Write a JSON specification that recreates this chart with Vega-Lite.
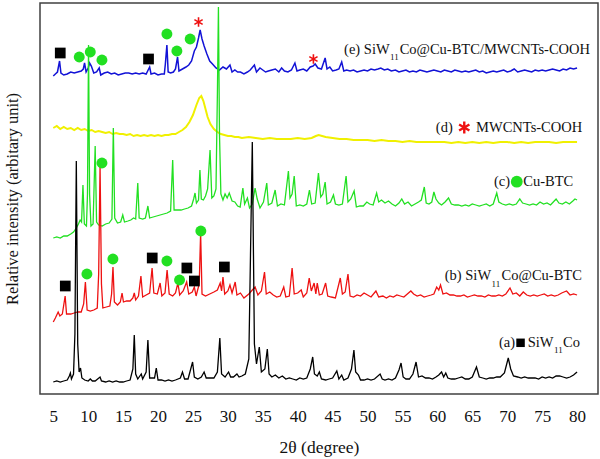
{
"$schema": "https://vega.github.io/schema/vega-lite/v6.json",
"width": 558, "height": 391,
"autosize": "none",
"padding": {"left": 40, "top": 3, "right": 2, "bottom": 65},
"background": "white",
"config": {"view": {"stroke": "#404040", "strokeWidth": 1.5}, "axisX": {"labelOverlap": false, "labelSeparation": 0, "labelBound": false}},
"datasets": {
"tr": [
{"s":"a","x":5.0,"y":12},{"s":"a","x":5.5,"y":13},{"s":"a","x":6.0,"y":12},{"s":"a","x":6.5,"y":13},{"s":"a","x":7.0,"y":14},{"s":"a","x":7.3,"y":18},{"s":"a","x":7.45,"y":21},{"s":"a","x":7.6,"y":15},{"s":"a","x":7.9,"y":20},{"s":"a","x":8.1,"y":60},{"s":"a","x":8.3,"y":233},{"s":"a","x":8.5,"y":50},{"s":"a","x":8.7,"y":22},{"s":"a","x":8.9,"y":26},{"s":"a","x":9.1,"y":16},{"s":"a","x":9.5,"y":14},{"s":"a","x":10.0,"y":13},{"s":"a","x":10.3,"y":15},{"s":"a","x":10.6,"y":13},{"s":"a","x":11.0,"y":13},{"s":"a","x":11.7,"y":17},{"s":"a","x":11.9,"y":13},{"s":"a","x":12.5,"y":12},{"s":"a","x":13.0,"y":13},{"s":"a","x":13.5,"y":12},{"s":"a","x":14.0,"y":13},{"s":"a","x":14.5,"y":12},{"s":"a","x":15.0,"y":12},{"s":"a","x":15.5,"y":13},{"s":"a","x":16.0,"y":14},{"s":"a","x":16.4,"y":25},{"s":"a","x":16.6,"y":59},{"s":"a","x":16.8,"y":20},{"s":"a","x":17.1,"y":15},{"s":"a","x":17.6,"y":20},{"s":"a","x":17.8,"y":15},{"s":"a","x":18.3,"y":22},{"s":"a","x":18.55,"y":54},{"s":"a","x":18.8,"y":16},{"s":"a","x":19.5,"y":16},{"s":"a","x":19.75,"y":26},{"s":"a","x":20.0,"y":14},{"s":"a","x":20.5,"y":14},{"s":"a","x":21.0,"y":13},{"s":"a","x":21.5,"y":14},{"s":"a","x":22.0,"y":13},{"s":"a","x":22.5,"y":14},{"s":"a","x":23.2,"y":16},{"s":"a","x":23.5,"y":22},{"s":"a","x":23.8,"y":15},{"s":"a","x":24.3,"y":15},{"s":"a","x":24.95,"y":32},{"s":"a","x":25.2,"y":17},{"s":"a","x":25.7,"y":15},{"s":"a","x":26.2,"y":17},{"s":"a","x":26.6,"y":22},{"s":"a","x":26.9,"y":16},{"s":"a","x":27.5,"y":16},{"s":"a","x":28.0,"y":16},{"s":"a","x":28.5,"y":22},{"s":"a","x":28.85,"y":56},{"s":"a","x":29.1,"y":20},{"s":"a","x":29.6,"y":17},{"s":"a","x":30.1,"y":22},{"s":"a","x":30.4,"y":17},{"s":"a","x":30.8,"y":17},{"s":"a","x":31.3,"y":20},{"s":"a","x":31.6,"y":17},{"s":"a","x":32.0,"y":18},{"s":"a","x":32.5,"y":20},{"s":"a","x":33.0,"y":35},{"s":"a","x":33.5,"y":252},{"s":"a","x":33.8,"y":50},{"s":"a","x":34.1,"y":30},{"s":"a","x":34.5,"y":47},{"s":"a","x":34.8,"y":22},{"s":"a","x":35.3,"y":25},{"s":"a","x":35.65,"y":45},{"s":"a","x":35.9,"y":20},{"s":"a","x":36.3,"y":17},{"s":"a","x":36.8,"y":19},{"s":"a","x":37.3,"y":16},{"s":"a","x":37.8,"y":18},{"s":"a","x":38.3,"y":15},{"s":"a","x":38.8,"y":16},{"s":"a","x":39.3,"y":15},{"s":"a","x":39.8,"y":14},{"s":"a","x":40.3,"y":16},{"s":"a","x":40.8,"y":15},{"s":"a","x":41.3,"y":16},{"s":"a","x":41.8,"y":25},{"s":"a","x":42.15,"y":37},{"s":"a","x":42.4,"y":20},{"s":"a","x":42.8,"y":18},{"s":"a","x":43.1,"y":22},{"s":"a","x":43.4,"y":15},{"s":"a","x":44.0,"y":14},{"s":"a","x":44.5,"y":15},{"s":"a","x":45.0,"y":16},{"s":"a","x":45.6,"y":23},{"s":"a","x":45.9,"y":15},{"s":"a","x":46.3,"y":19},{"s":"a","x":46.6,"y":14},{"s":"a","x":47.2,"y":16},{"s":"a","x":47.7,"y":25},{"s":"a","x":48.05,"y":44},{"s":"a","x":48.3,"y":22},{"s":"a","x":48.7,"y":19},{"s":"a","x":49.0,"y":14},{"s":"a","x":49.5,"y":14},{"s":"a","x":50.0,"y":15},{"s":"a","x":50.5,"y":14},{"s":"a","x":51.0,"y":15},{"s":"a","x":51.8,"y":20},{"s":"a","x":52.1,"y":15},{"s":"a","x":52.5,"y":14},{"s":"a","x":53.0,"y":15},{"s":"a","x":53.5,"y":14},{"s":"a","x":54.0,"y":16},{"s":"a","x":54.5,"y":24},{"s":"a","x":54.8,"y":31},{"s":"a","x":55.1,"y":17},{"s":"a","x":55.5,"y":15},{"s":"a","x":56.0,"y":15},{"s":"a","x":56.5,"y":20},{"s":"a","x":56.95,"y":32},{"s":"a","x":57.3,"y":17},{"s":"a","x":57.8,"y":18},{"s":"a","x":58.3,"y":16},{"s":"a","x":58.8,"y":16},{"s":"a","x":59.3,"y":15},{"s":"a","x":59.8,"y":17},{"s":"a","x":60.2,"y":19},{"s":"a","x":60.6,"y":22},{"s":"a","x":60.9,"y":17},{"s":"a","x":61.2,"y":21},{"s":"a","x":61.5,"y":16},{"s":"a","x":62.0,"y":15},{"s":"a","x":62.5,"y":15},{"s":"a","x":63.0,"y":16},{"s":"a","x":63.5,"y":17},{"s":"a","x":64.0,"y":15},{"s":"a","x":64.5,"y":15},{"s":"a","x":65.0,"y":17},{"s":"a","x":65.6,"y":27},{"s":"a","x":66.0,"y":17},{"s":"a","x":66.5,"y":16},{"s":"a","x":67.0,"y":15},{"s":"a","x":67.5,"y":16},{"s":"a","x":68.0,"y":16},{"s":"a","x":68.5,"y":17},{"s":"a","x":69.0,"y":17},{"s":"a","x":69.6,"y":21},{"s":"a","x":70.15,"y":36},{"s":"a","x":70.5,"y":25},{"s":"a","x":70.9,"y":18},{"s":"a","x":71.5,"y":17},{"s":"a","x":72.0,"y":16},{"s":"a","x":72.5,"y":17},{"s":"a","x":73.0,"y":16},{"s":"a","x":73.5,"y":16},{"s":"a","x":74.0,"y":16},{"s":"a","x":74.5,"y":15},{"s":"a","x":75.0,"y":17},{"s":"a","x":75.5,"y":16},{"s":"a","x":76.0,"y":17},{"s":"a","x":76.5,"y":16},{"s":"a","x":77.0,"y":18},{"s":"a","x":77.5,"y":18},{"s":"a","x":78.0,"y":17},{"s":"a","x":78.5,"y":16},{"s":"a","x":79.0,"y":17},{"s":"a","x":79.5,"y":19},{"s":"a","x":80.0,"y":22},
{"s":"b","x":5.0,"y":72},{"s":"b","x":5.3,"y":76},{"s":"b","x":5.7,"y":82},{"s":"b","x":5.95,"y":78},{"s":"b","x":6.3,"y":80},{"s":"b","x":6.7,"y":98},{"s":"b","x":6.9,"y":80},{"s":"b","x":7.5,"y":80},{"s":"b","x":8.0,"y":81},{"s":"b","x":8.5,"y":82},{"s":"b","x":9.0,"y":82},{"s":"b","x":9.35,"y":90},{"s":"b","x":9.6,"y":112},{"s":"b","x":9.85,"y":84},{"s":"b","x":10.3,"y":83},{"s":"b","x":10.8,"y":84},{"s":"b","x":11.3,"y":86},{"s":"b","x":11.5,"y":120},{"s":"b","x":11.7,"y":228},{"s":"b","x":11.9,"y":110},{"s":"b","x":12.1,"y":86},{"s":"b","x":12.6,"y":87},{"s":"b","x":13.1,"y":88},{"s":"b","x":13.35,"y":100},{"s":"b","x":13.55,"y":127},{"s":"b","x":13.75,"y":92},{"s":"b","x":14.2,"y":89},{"s":"b","x":14.6,"y":92},{"s":"b","x":14.85,"y":101},{"s":"b","x":15.05,"y":92},{"s":"b","x":15.5,"y":93},{"s":"b","x":16.0,"y":93},{"s":"b","x":16.4,"y":96},{"s":"b","x":16.6,"y":101},{"s":"b","x":16.8,"y":94},{"s":"b","x":17.2,"y":98},{"s":"b","x":17.55,"y":118},{"s":"b","x":17.8,"y":97},{"s":"b","x":18.3,"y":99},{"s":"b","x":18.8,"y":101},{"s":"b","x":19.15,"y":126},{"s":"b","x":19.4,"y":101},{"s":"b","x":19.9,"y":100},{"s":"b","x":20.3,"y":111},{"s":"b","x":20.55,"y":98},{"s":"b","x":21.0,"y":101},{"s":"b","x":21.3,"y":124},{"s":"b","x":21.6,"y":100},{"s":"b","x":22.1,"y":98},{"s":"b","x":22.5,"y":101},{"s":"b","x":22.85,"y":111},{"s":"b","x":23.1,"y":99},{"s":"b","x":23.6,"y":103},{"s":"b","x":24.1,"y":112},{"s":"b","x":24.4,"y":100},{"s":"b","x":24.9,"y":102},{"s":"b","x":25.2,"y":107},{"s":"b","x":25.45,"y":98},{"s":"b","x":25.9,"y":110},{"s":"b","x":26.1,"y":161},{"s":"b","x":26.3,"y":100},{"s":"b","x":26.8,"y":98},{"s":"b","x":27.4,"y":100},{"s":"b","x":28.0,"y":102},{"s":"b","x":28.5,"y":104},{"s":"b","x":28.9,"y":111},{"s":"b","x":29.1,"y":103},{"s":"b","x":29.3,"y":117},{"s":"b","x":29.55,"y":100},{"s":"b","x":30.0,"y":103},{"s":"b","x":30.3,"y":109},{"s":"b","x":30.6,"y":101},{"s":"b","x":31.05,"y":112},{"s":"b","x":31.3,"y":99},{"s":"b","x":31.8,"y":101},{"s":"b","x":32.3,"y":96},{"s":"b","x":33.0,"y":100},{"s":"b","x":33.5,"y":104},{"s":"b","x":33.9,"y":107},{"s":"b","x":34.3,"y":99},{"s":"b","x":34.8,"y":103},{"s":"b","x":35.25,"y":122},{"s":"b","x":35.5,"y":100},{"s":"b","x":36.0,"y":102},{"s":"b","x":36.5,"y":99},{"s":"b","x":37.0,"y":97},{"s":"b","x":37.5,"y":98},{"s":"b","x":38.0,"y":107},{"s":"b","x":38.3,"y":97},{"s":"b","x":38.8,"y":98},{"s":"b","x":39.2,"y":126},{"s":"b","x":39.5,"y":100},{"s":"b","x":40.0,"y":101},{"s":"b","x":40.5,"y":104},{"s":"b","x":40.8,"y":97},{"s":"b","x":41.3,"y":101},{"s":"b","x":41.65,"y":116},{"s":"b","x":41.95,"y":103},{"s":"b","x":42.35,"y":111},{"s":"b","x":42.6,"y":100},{"s":"b","x":42.8,"y":111},{"s":"b","x":43.1,"y":99},{"s":"b","x":43.5,"y":100},{"s":"b","x":44.0,"y":111},{"s":"b","x":44.3,"y":98},{"s":"b","x":44.8,"y":97},{"s":"b","x":45.4,"y":96},{"s":"b","x":46.1,"y":116},{"s":"b","x":46.4,"y":100},{"s":"b","x":46.8,"y":102},{"s":"b","x":47.2,"y":120},{"s":"b","x":47.5,"y":98},{"s":"b","x":48.0,"y":97},{"s":"b","x":48.5,"y":99},{"s":"b","x":49.0,"y":98},{"s":"b","x":49.5,"y":101},{"s":"b","x":50.0,"y":99},{"s":"b","x":50.5,"y":97},{"s":"b","x":51.2,"y":103},{"s":"b","x":51.6,"y":97},{"s":"b","x":52.2,"y":98},{"s":"b","x":52.7,"y":96},{"s":"b","x":53.2,"y":98},{"s":"b","x":53.7,"y":97},{"s":"b","x":54.2,"y":99},{"s":"b","x":54.7,"y":98},{"s":"b","x":55.2,"y":97},{"s":"b","x":55.7,"y":100},{"s":"b","x":56.2,"y":103},{"s":"b","x":56.6,"y":100},{"s":"b","x":57.1,"y":98},{"s":"b","x":57.6,"y":99},{"s":"b","x":58.1,"y":97},{"s":"b","x":58.6,"y":98},{"s":"b","x":59.1,"y":99},{"s":"b","x":59.5,"y":100},{"s":"b","x":59.9,"y":107},{"s":"b","x":60.2,"y":104},{"s":"b","x":60.45,"y":109},{"s":"b","x":60.8,"y":100},{"s":"b","x":61.3,"y":101},{"s":"b","x":61.8,"y":99},{"s":"b","x":62.3,"y":99},{"s":"b","x":62.8,"y":98},{"s":"b","x":63.3,"y":98},{"s":"b","x":63.8,"y":99},{"s":"b","x":64.3,"y":97},{"s":"b","x":64.8,"y":98},{"s":"b","x":65.3,"y":99},{"s":"b","x":65.8,"y":98},{"s":"b","x":66.3,"y":98},{"s":"b","x":66.8,"y":97},{"s":"b","x":67.3,"y":99},{"s":"b","x":67.8,"y":98},{"s":"b","x":68.3,"y":98},{"s":"b","x":68.8,"y":99},{"s":"b","x":69.3,"y":98},{"s":"b","x":69.8,"y":100},{"s":"b","x":70.4,"y":106},{"s":"b","x":70.8,"y":100},{"s":"b","x":71.3,"y":101},{"s":"b","x":71.8,"y":98},{"s":"b","x":72.3,"y":102},{"s":"b","x":72.8,"y":99},{"s":"b","x":73.3,"y":98},{"s":"b","x":73.8,"y":99},{"s":"b","x":74.3,"y":98},{"s":"b","x":74.8,"y":99},{"s":"b","x":75.3,"y":100},{"s":"b","x":75.8,"y":98},{"s":"b","x":76.3,"y":99},{"s":"b","x":76.8,"y":98},{"s":"b","x":77.3,"y":99},{"s":"b","x":77.8,"y":101},{"s":"b","x":78.5,"y":103},{"s":"b","x":79.0,"y":99},{"s":"b","x":79.5,"y":100},{"s":"b","x":80.0,"y":99},
{"s":"c","x":5.0,"y":156},{"s":"c","x":5.5,"y":157},{"s":"c","x":6.0,"y":156},{"s":"c","x":6.5,"y":158},{"s":"c","x":7.0,"y":158},{"s":"c","x":7.5,"y":160},{"s":"c","x":7.9,"y":162},{"s":"c","x":8.3,"y":166},{"s":"c","x":8.6,"y":170},{"s":"c","x":8.85,"y":174},{"s":"c","x":9.05,"y":172},{"s":"c","x":9.25,"y":209},{"s":"c","x":9.45,"y":170},{"s":"c","x":9.75,"y":168},{"s":"c","x":9.9,"y":200},{"s":"c","x":10.05,"y":349},{"s":"c","x":10.2,"y":200},{"s":"c","x":10.4,"y":168},{"s":"c","x":10.7,"y":170},{"s":"c","x":11.0,"y":248},{"s":"c","x":11.2,"y":172},{"s":"c","x":11.5,"y":169},{"s":"c","x":12.0,"y":168},{"s":"c","x":12.5,"y":170},{"s":"c","x":13.0,"y":171},{"s":"c","x":13.4,"y":175},{"s":"c","x":13.6,"y":266},{"s":"c","x":13.8,"y":176},{"s":"c","x":14.2,"y":171},{"s":"c","x":14.65,"y":172},{"s":"c","x":14.95,"y":179},{"s":"c","x":15.2,"y":172},{"s":"c","x":15.7,"y":173},{"s":"c","x":16.1,"y":174},{"s":"c","x":16.5,"y":176},{"s":"c","x":16.8,"y":175},{"s":"c","x":17.1,"y":211},{"s":"c","x":17.3,"y":176},{"s":"c","x":17.8,"y":175},{"s":"c","x":18.2,"y":176},{"s":"c","x":18.55,"y":188},{"s":"c","x":18.8,"y":176},{"s":"c","x":19.3,"y":177},{"s":"c","x":19.8,"y":178},{"s":"c","x":20.3,"y":179},{"s":"c","x":20.8,"y":180},{"s":"c","x":21.3,"y":181},{"s":"c","x":21.8,"y":183},{"s":"c","x":22.1,"y":234},{"s":"c","x":22.3,"y":184},{"s":"c","x":22.8,"y":184},{"s":"c","x":23.3,"y":184},{"s":"c","x":23.8,"y":185},{"s":"c","x":24.3,"y":186},{"s":"c","x":24.8,"y":188},{"s":"c","x":25.1,"y":195},{"s":"c","x":25.3,"y":201},{"s":"c","x":25.5,"y":191},{"s":"c","x":25.8,"y":194},{"s":"c","x":26.0,"y":224},{"s":"c","x":26.2,"y":195},{"s":"c","x":26.5,"y":194},{"s":"c","x":26.8,"y":198},{"s":"c","x":27.1,"y":205},{"s":"c","x":27.45,"y":244},{"s":"c","x":27.7,"y":196},{"s":"c","x":28.0,"y":198},{"s":"c","x":28.3,"y":205},{"s":"c","x":28.5,"y":300},{"s":"c","x":28.65,"y":387},{"s":"c","x":28.8,"y":260},{"s":"c","x":29.0,"y":200},{"s":"c","x":29.3,"y":194},{"s":"c","x":29.6,"y":200},{"s":"c","x":29.9,"y":196},{"s":"c","x":30.2,"y":201},{"s":"c","x":30.6,"y":193},{"s":"c","x":31.0,"y":192},{"s":"c","x":31.4,"y":188},{"s":"c","x":31.76,"y":187},{"s":"c","x":32.15,"y":206},{"s":"c","x":32.4,"y":190},{"s":"c","x":32.8,"y":196},{"s":"c","x":33.1,"y":186},{"s":"c","x":33.5,"y":190},{"s":"c","x":33.9,"y":206},{"s":"c","x":34.2,"y":195},{"s":"c","x":34.6,"y":186},{"s":"c","x":35.1,"y":192},{"s":"c","x":35.57,"y":211},{"s":"c","x":35.8,"y":189},{"s":"c","x":36.3,"y":191},{"s":"c","x":36.77,"y":204},{"s":"c","x":37.1,"y":188},{"s":"c","x":37.6,"y":190},{"s":"c","x":38.1,"y":189},{"s":"c","x":38.67,"y":223},{"s":"c","x":38.9,"y":196},{"s":"c","x":39.2,"y":200},{"s":"c","x":39.5,"y":218},{"s":"c","x":39.8,"y":188},{"s":"c","x":40.3,"y":189},{"s":"c","x":40.8,"y":188},{"s":"c","x":41.3,"y":190},{"s":"c","x":41.68,"y":204},{"s":"c","x":42.0,"y":190},{"s":"c","x":42.5,"y":191},{"s":"c","x":42.97,"y":221},{"s":"c","x":43.3,"y":197},{"s":"c","x":43.6,"y":200},{"s":"c","x":43.93,"y":212},{"s":"c","x":44.2,"y":190},{"s":"c","x":44.7,"y":192},{"s":"c","x":45.12,"y":199},{"s":"c","x":45.4,"y":190},{"s":"c","x":45.9,"y":189},{"s":"c","x":46.4,"y":190},{"s":"c","x":46.93,"y":218},{"s":"c","x":47.2,"y":192},{"s":"c","x":47.6,"y":195},{"s":"c","x":48.08,"y":203},{"s":"c","x":48.4,"y":187},{"s":"c","x":48.9,"y":188},{"s":"c","x":49.4,"y":188},{"s":"c","x":49.9,"y":192},{"s":"c","x":50.3,"y":190},{"s":"c","x":50.8,"y":189},{"s":"c","x":51.3,"y":201},{"s":"c","x":51.6,"y":192},{"s":"c","x":52.0,"y":194},{"s":"c","x":52.5,"y":191},{"s":"c","x":53.0,"y":193},{"s":"c","x":53.5,"y":190},{"s":"c","x":54.0,"y":188},{"s":"c","x":54.5,"y":191},{"s":"c","x":54.9,"y":195},{"s":"c","x":55.3,"y":190},{"s":"c","x":55.8,"y":192},{"s":"c","x":56.3,"y":188},{"s":"c","x":56.8,"y":190},{"s":"c","x":57.3,"y":192},{"s":"c","x":57.7,"y":194},{"s":"c","x":58.13,"y":207},{"s":"c","x":58.4,"y":191},{"s":"c","x":58.8,"y":190},{"s":"c","x":59.2,"y":192},{"s":"c","x":59.5,"y":202},{"s":"c","x":59.8,"y":195},{"s":"c","x":60.2,"y":191},{"s":"c","x":60.6,"y":189},{"s":"c","x":61.1,"y":192},{"s":"c","x":61.6,"y":196},{"s":"c","x":62.0,"y":190},{"s":"c","x":62.5,"y":189},{"s":"c","x":63.0,"y":189},{"s":"c","x":63.5,"y":188},{"s":"c","x":64.0,"y":189},{"s":"c","x":64.5,"y":188},{"s":"c","x":65.0,"y":190},{"s":"c","x":65.5,"y":189},{"s":"c","x":66.0,"y":188},{"s":"c","x":66.5,"y":189},{"s":"c","x":67.0,"y":190},{"s":"c","x":67.5,"y":188},{"s":"c","x":68.0,"y":190},{"s":"c","x":68.5,"y":201},{"s":"c","x":68.8,"y":192},{"s":"c","x":69.3,"y":190},{"s":"c","x":69.8,"y":189},{"s":"c","x":70.3,"y":190},{"s":"c","x":70.8,"y":189},{"s":"c","x":71.3,"y":190},{"s":"c","x":71.8,"y":195},{"s":"c","x":72.2,"y":191},{"s":"c","x":72.7,"y":190},{"s":"c","x":73.2,"y":189},{"s":"c","x":73.7,"y":190},{"s":"c","x":74.2,"y":189},{"s":"c","x":74.7,"y":192},{"s":"c","x":75.2,"y":190},{"s":"c","x":75.7,"y":191},{"s":"c","x":76.2,"y":189},{"s":"c","x":76.6,"y":192},{"s":"c","x":77.0,"y":195},{"s":"c","x":77.4,"y":191},{"s":"c","x":77.9,"y":190},{"s":"c","x":78.4,"y":192},{"s":"c","x":78.9,"y":190},{"s":"c","x":79.4,"y":193},{"s":"c","x":79.7,"y":195},{"s":"c","x":80.0,"y":194},
{"s":"d","x":5.0,"y":266},{"s":"d","x":5.5,"y":268},{"s":"d","x":6.0,"y":265},{"s":"d","x":6.5,"y":267},{"s":"d","x":7.0,"y":265},{"s":"d","x":7.5,"y":266},{"s":"d","x":8.0,"y":264},{"s":"d","x":8.5,"y":266},{"s":"d","x":9.0,"y":264},{"s":"d","x":9.5,"y":265},{"s":"d","x":10.0,"y":263},{"s":"d","x":10.5,"y":264},{"s":"d","x":11.0,"y":262},{"s":"d","x":11.5,"y":263},{"s":"d","x":12.0,"y":262},{"s":"d","x":12.5,"y":261},{"s":"d","x":13.0,"y":262},{"s":"d","x":13.5,"y":260},{"s":"d","x":14.0,"y":261},{"s":"d","x":14.5,"y":260},{"s":"d","x":15.0,"y":260},{"s":"d","x":15.5,"y":259},{"s":"d","x":16.0,"y":260},{"s":"d","x":16.5,"y":258},{"s":"d","x":17.0,"y":259},{"s":"d","x":17.5,"y":258},{"s":"d","x":18.0,"y":259},{"s":"d","x":18.5,"y":258},{"s":"d","x":19.0,"y":259},{"s":"d","x":19.5,"y":258},{"s":"d","x":20.0,"y":259},{"s":"d","x":20.5,"y":258},{"s":"d","x":21.0,"y":259},{"s":"d","x":21.5,"y":259},{"s":"d","x":22.0,"y":260},{"s":"d","x":22.5,"y":260},{"s":"d","x":23.0,"y":262},{"s":"d","x":23.5,"y":264},{"s":"d","x":24.0,"y":267},{"s":"d","x":24.5,"y":272},{"s":"d","x":25.0,"y":279},{"s":"d","x":25.5,"y":289},{"s":"d","x":25.9,"y":296},{"s":"d","x":26.2,"y":298},{"s":"d","x":26.5,"y":293},{"s":"d","x":26.8,"y":285},{"s":"d","x":27.1,"y":277},{"s":"d","x":27.5,"y":270},{"s":"d","x":28.0,"y":265},{"s":"d","x":28.5,"y":262},{"s":"d","x":29.0,"y":260},{"s":"d","x":29.5,"y":259},{"s":"d","x":30.0,"y":258},{"s":"d","x":30.5,"y":258},{"s":"d","x":31.0,"y":257},{"s":"d","x":31.5,"y":257},{"s":"d","x":32.0,"y":256},{"s":"d","x":33.0,"y":257},{"s":"d","x":34.0,"y":256},{"s":"d","x":35.0,"y":255},{"s":"d","x":36.0,"y":256},{"s":"d","x":37.0,"y":255},{"s":"d","x":38.0,"y":255},{"s":"d","x":39.0,"y":255},{"s":"d","x":40.0,"y":256},{"s":"d","x":41.0,"y":255},{"s":"d","x":42.0,"y":256},{"s":"d","x":42.6,"y":258},{"s":"d","x":43.0,"y":259},{"s":"d","x":43.5,"y":258},{"s":"d","x":44.0,"y":257},{"s":"d","x":45.0,"y":256},{"s":"d","x":46.0,"y":255},{"s":"d","x":47.0,"y":255},{"s":"d","x":48.0,"y":254},{"s":"d","x":49.0,"y":254},{"s":"d","x":50.0,"y":254},{"s":"d","x":51.0,"y":253},{"s":"d","x":52.0,"y":254},{"s":"d","x":53.0,"y":253},{"s":"d","x":54.0,"y":253},{"s":"d","x":55.0,"y":252},{"s":"d","x":56.0,"y":253},{"s":"d","x":57.0,"y":252},{"s":"d","x":58.0,"y":252},{"s":"d","x":59.0,"y":252},{"s":"d","x":60.0,"y":252},{"s":"d","x":61.0,"y":252},{"s":"d","x":62.0,"y":251},{"s":"d","x":63.0,"y":252},{"s":"d","x":64.0,"y":251},{"s":"d","x":65.0,"y":252},{"s":"d","x":66.0,"y":251},{"s":"d","x":67.0,"y":252},{"s":"d","x":68.0,"y":251},{"s":"d","x":69.0,"y":252},{"s":"d","x":70.0,"y":252},{"s":"d","x":71.0,"y":251},{"s":"d","x":72.0,"y":252},{"s":"d","x":73.0,"y":251},{"s":"d","x":74.0,"y":252},{"s":"d","x":75.0,"y":252},{"s":"d","x":76.0,"y":252},{"s":"d","x":77.0,"y":251},{"s":"d","x":78.0,"y":252},{"s":"d","x":79.0,"y":252},{"s":"d","x":80.0,"y":252},
{"s":"e","x":5.0,"y":318},{"s":"e","x":5.3,"y":320},{"s":"e","x":5.6,"y":322},{"s":"e","x":5.9,"y":333},{"s":"e","x":6.1,"y":321},{"s":"e","x":6.5,"y":319},{"s":"e","x":7.0,"y":320},{"s":"e","x":7.5,"y":322},{"s":"e","x":8.0,"y":321},{"s":"e","x":8.5,"y":322},{"s":"e","x":9.0,"y":323},{"s":"e","x":9.3,"y":325},{"s":"e","x":9.48,"y":331},{"s":"e","x":9.7,"y":322},{"s":"e","x":10.0,"y":326},{"s":"e","x":10.2,"y":331},{"s":"e","x":10.45,"y":328},{"s":"e","x":10.8,"y":321},{"s":"e","x":11.2,"y":322},{"s":"e","x":11.58,"y":326},{"s":"e","x":11.8,"y":319},{"s":"e","x":12.3,"y":321},{"s":"e","x":12.8,"y":322},{"s":"e","x":13.3,"y":320},{"s":"e","x":13.8,"y":321},{"s":"e","x":14.3,"y":319},{"s":"e","x":14.8,"y":320},{"s":"e","x":15.3,"y":321},{"s":"e","x":15.8,"y":321},{"s":"e","x":16.3,"y":320},{"s":"e","x":16.8,"y":321},{"s":"e","x":17.3,"y":320},{"s":"e","x":17.8,"y":321},{"s":"e","x":18.3,"y":320},{"s":"e","x":18.8,"y":327},{"s":"e","x":19.0,"y":320},{"s":"e","x":19.5,"y":321},{"s":"e","x":20.0,"y":319},{"s":"e","x":20.5,"y":320},{"s":"e","x":20.9,"y":320},{"s":"e","x":21.05,"y":330},{"s":"e","x":21.27,"y":349},{"s":"e","x":21.45,"y":322},{"s":"e","x":21.8,"y":321},{"s":"e","x":22.2,"y":322},{"s":"e","x":22.5,"y":325},{"s":"e","x":22.8,"y":337},{"s":"e","x":23.0,"y":323},{"s":"e","x":23.5,"y":325},{"s":"e","x":24.0,"y":327},{"s":"e","x":24.4,"y":329},{"s":"e","x":24.8,"y":333},{"s":"e","x":25.2,"y":343},{"s":"e","x":25.5,"y":347},{"s":"e","x":25.8,"y":356},{"s":"e","x":26.03,"y":364},{"s":"e","x":26.3,"y":355},{"s":"e","x":26.6,"y":348},{"s":"e","x":27.0,"y":340},{"s":"e","x":27.4,"y":333},{"s":"e","x":27.8,"y":330},{"s":"e","x":28.3,"y":326},{"s":"e","x":28.8,"y":324},{"s":"e","x":29.3,"y":327},{"s":"e","x":29.8,"y":325},{"s":"e","x":30.3,"y":329},{"s":"e","x":30.6,"y":322},{"s":"e","x":31.0,"y":324},{"s":"e","x":31.4,"y":322},{"s":"e","x":31.8,"y":322},{"s":"e","x":32.3,"y":320},{"s":"e","x":32.8,"y":322},{"s":"e","x":33.2,"y":324},{"s":"e","x":33.8,"y":329},{"s":"e","x":34.1,"y":322},{"s":"e","x":34.6,"y":326},{"s":"e","x":35.0,"y":324},{"s":"e","x":35.4,"y":322},{"s":"e","x":35.8,"y":323},{"s":"e","x":36.3,"y":324},{"s":"e","x":36.8,"y":325},{"s":"e","x":37.3,"y":322},{"s":"e","x":37.7,"y":326},{"s":"e","x":38.1,"y":323},{"s":"e","x":38.6,"y":322},{"s":"e","x":39.1,"y":324},{"s":"e","x":39.6,"y":331},{"s":"e","x":39.9,"y":323},{"s":"e","x":40.3,"y":324},{"s":"e","x":40.8,"y":325},{"s":"e","x":41.3,"y":323},{"s":"e","x":41.8,"y":327},{"s":"e","x":42.2,"y":328},{"s":"e","x":42.5,"y":330},{"s":"e","x":42.9,"y":326},{"s":"e","x":43.4,"y":325},{"s":"e","x":43.93,"y":336},{"s":"e","x":44.2,"y":325},{"s":"e","x":44.6,"y":327},{"s":"e","x":45.0,"y":323},{"s":"e","x":45.5,"y":324},{"s":"e","x":45.9,"y":325},{"s":"e","x":46.3,"y":332},{"s":"e","x":46.6,"y":323},{"s":"e","x":47.0,"y":324},{"s":"e","x":47.5,"y":323},{"s":"e","x":48.0,"y":324},{"s":"e","x":48.5,"y":322},{"s":"e","x":49.0,"y":323},{"s":"e","x":49.5,"y":324},{"s":"e","x":50.0,"y":323},{"s":"e","x":50.5,"y":325},{"s":"e","x":51.0,"y":324},{"s":"e","x":51.5,"y":325},{"s":"e","x":51.9,"y":326},{"s":"e","x":52.4,"y":324},{"s":"e","x":52.9,"y":325},{"s":"e","x":53.4,"y":323},{"s":"e","x":54.0,"y":324},{"s":"e","x":54.5,"y":322},{"s":"e","x":55.0,"y":323},{"s":"e","x":55.5,"y":324},{"s":"e","x":56.0,"y":322},{"s":"e","x":56.5,"y":323},{"s":"e","x":57.0,"y":322},{"s":"e","x":57.5,"y":324},{"s":"e","x":58.0,"y":323},{"s":"e","x":58.5,"y":322},{"s":"e","x":59.0,"y":323},{"s":"e","x":59.5,"y":324},{"s":"e","x":60.0,"y":323},{"s":"e","x":60.5,"y":322},{"s":"e","x":61.0,"y":324},{"s":"e","x":61.5,"y":323},{"s":"e","x":62.0,"y":322},{"s":"e","x":62.5,"y":324},{"s":"e","x":63.0,"y":323},{"s":"e","x":63.5,"y":322},{"s":"e","x":64.0,"y":323},{"s":"e","x":64.5,"y":322},{"s":"e","x":65.0,"y":323},{"s":"e","x":65.5,"y":324},{"s":"e","x":66.0,"y":322},{"s":"e","x":66.5,"y":323},{"s":"e","x":67.0,"y":321},{"s":"e","x":67.5,"y":322},{"s":"e","x":68.0,"y":323},{"s":"e","x":68.5,"y":322},{"s":"e","x":69.0,"y":323},{"s":"e","x":69.5,"y":324},{"s":"e","x":70.0,"y":322},{"s":"e","x":70.5,"y":323},{"s":"e","x":71.0,"y":325},{"s":"e","x":71.5,"y":322},{"s":"e","x":72.0,"y":323},{"s":"e","x":72.5,"y":324},{"s":"e","x":73.0,"y":323},{"s":"e","x":73.5,"y":322},{"s":"e","x":74.0,"y":324},{"s":"e","x":74.5,"y":323},{"s":"e","x":75.0,"y":324},{"s":"e","x":75.5,"y":323},{"s":"e","x":76.0,"y":324},{"s":"e","x":76.5,"y":325},{"s":"e","x":77.0,"y":324},{"s":"e","x":77.5,"y":323},{"s":"e","x":78.0,"y":325},{"s":"e","x":78.5,"y":324},{"s":"e","x":79.0,"y":326},{"s":"e","x":79.5,"y":325},{"s":"e","x":80.0,"y":326}
]
},
"encoding": {
  "x": {"field": "x", "type": "quantitative", "scale": {"domain": [3.1, 83], "nice": false, "zero": false},
   "axis": {"values": [5,10,15,20,25,30,35,40,45,50,55,60,65,70,75,80], "labelOverlap": false, "title": "2θ (degree)", "grid": false, "domain": false, "ticks": false,
    "labelFont": "Liberation Serif", "labelFontSize": 17, "labelColor": "#111", "labelPadding": 14,
    "titleFont": "Liberation Serif", "titleFontSize": 17.5, "titleFontWeight": "normal", "titleColor": "#111", "titlePadding": 14}},
  "y": {"field": "y", "type": "quantitative", "scale": {"domain": [0, 391], "nice": false, "zero": false},
   "axis": {"title": "Relative intensity (arbitary unit)", "labels": false, "ticks": false, "domain": false, "grid": false,
    "titleFont": "Liberation Serif", "titleFontSize": 16.5, "titleFontWeight": "normal", "titleColor": "#111", "titlePadding": 20}}
},
"layer": [
{"data": {"name": "tr"}, "transform": [{"filter": "datum.s === 'd'"}],
 "mark": {"type": "line", "color": "#f0f000", "strokeWidth": 2}},
{"data": {"name": "tr"}, "transform": [{"filter": "datum.s === 'e'"}],
 "mark": {"type": "line", "color": "#1212d6", "strokeWidth": 1.5}},
{"data": {"name": "tr"}, "transform": [{"filter": "datum.s === 'c'"}],
 "mark": {"type": "line", "color": "#22e022", "strokeWidth": 1.3}},
{"data": {"name": "tr"}, "transform": [{"filter": "datum.s === 'b'"}],
 "mark": {"type": "line", "color": "#ee1111", "strokeWidth": 1.3}},
{"data": {"name": "tr"}, "transform": [{"filter": "datum.s === 'a'"}],
 "mark": {"type": "line", "color": "#000000", "strokeWidth": 1.3}},
{"data": {"values": [{"x":6.0,"y":341},{"x":18.64,"y":335},{"x":6.72,"y":108},{"x":19.17,"y":136},{"x":24.13,"y":126},{"x":25.2,"y":113},{"x":29.5,"y":127}]},
 "mark": {"type": "point", "shape": "square", "filled": true, "color": "#000", "opacity": 1, "size": 115}},
{"data": {"values": [{"x":8.72,"y":337},{"x":10.3,"y":342},{"x":11.97,"y":334},{"x":21.27,"y":360},{"x":22.7,"y":343},{"x":24.6,"y":355},{"x":9.82,"y":120},{"x":11.97,"y":231},{"x":13.54,"y":135},{"x":21.27,"y":133},{"x":23.08,"y":114},{"x":26.13,"y":163}]},
 "mark": {"type": "point", "shape": "circle", "filled": true, "color": "#22e022", "opacity": 1, "size": 120}},
{"data": {"values": [{"x":25.8,"y":372},{"x":42.25,"y":335}]},
 "mark": {"type": "point", "shape": "M0,-1L0,1M-0.87,-0.5L0.87,0.5M-0.87,0.5L0.87,-0.5", "filled": false, "color": "#ee1111", "opacity": 1, "size": 90, "strokeWidth": 1.6}},
{"data": {"values": [{"x":71.91,"y":51.2}]},
 "mark": {"type": "point", "shape": "square", "filled": true, "color": "#000", "opacity": 1, "size": 72}},
{"data": {"values": [{"x":71.37,"y":212.3}]},
 "mark": {"type": "point", "shape": "circle", "filled": true, "color": "#22e022", "opacity": 1, "size": 140}},
{"data": {"values": [{"x":63.85,"y":266.5}]},
 "mark": {"type": "point", "shape": "M0,-1L0,1M-0.87,-0.5L0.87,0.5M-0.87,0.5L0.87,-0.5", "filled": false, "color": "#ee1111", "opacity": 1, "size": 140, "strokeWidth": 2.4}},
{"data": {"values": [{"x":53.16,"y":340,"t":"(e) SiW"},{"x":62.2,"y":262.3,"t":"(d)"},{"x":70.4,"y":208,"t":"(c)"},{"x":67.69,"y":114,"t":"(b) SiW"},{"x":71.12,"y":46.7,"t":"(a)"},{"x":76.63,"y":46.7,"t":"SiW"}]},
 "mark": {"type": "text", "align": "right", "baseline": "alphabetic", "font": "Liberation Serif", "fontSize": 14.5, "color": "#111"},
 "encoding": {"text": {"field": "t"}}},
{"data": {"values": [{"x":54.6,"y":340,"t":"Co@Cu-BTC/MWCNTs-COOH"},{"x":65.54,"y":262.3,"t":"MWCNTs-COOH"},{"x":72.3,"y":208,"t":"Cu-BTC"},{"x":69.2,"y":114,"t":"Co@Cu-BTC"},{"x":78.0,"y":46.7,"t":"Co"}]},
 "mark": {"type": "text", "align": "left", "baseline": "alphabetic", "font": "Liberation Serif", "fontSize": 14.5, "color": "#111"},
 "encoding": {"text": {"field": "t"}}},
{"data": {"values": [{"x":53.23,"y":334.5,"t":"11"},{"x":67.76,"y":107.5,"t":"11"},{"x":76.7,"y":40.7,"t":"11"}]},
 "mark": {"type": "text", "align": "left", "baseline": "alphabetic", "font": "Liberation Serif", "fontSize": 9, "color": "#111"},
 "encoding": {"text": {"field": "t"}}}
]
}
